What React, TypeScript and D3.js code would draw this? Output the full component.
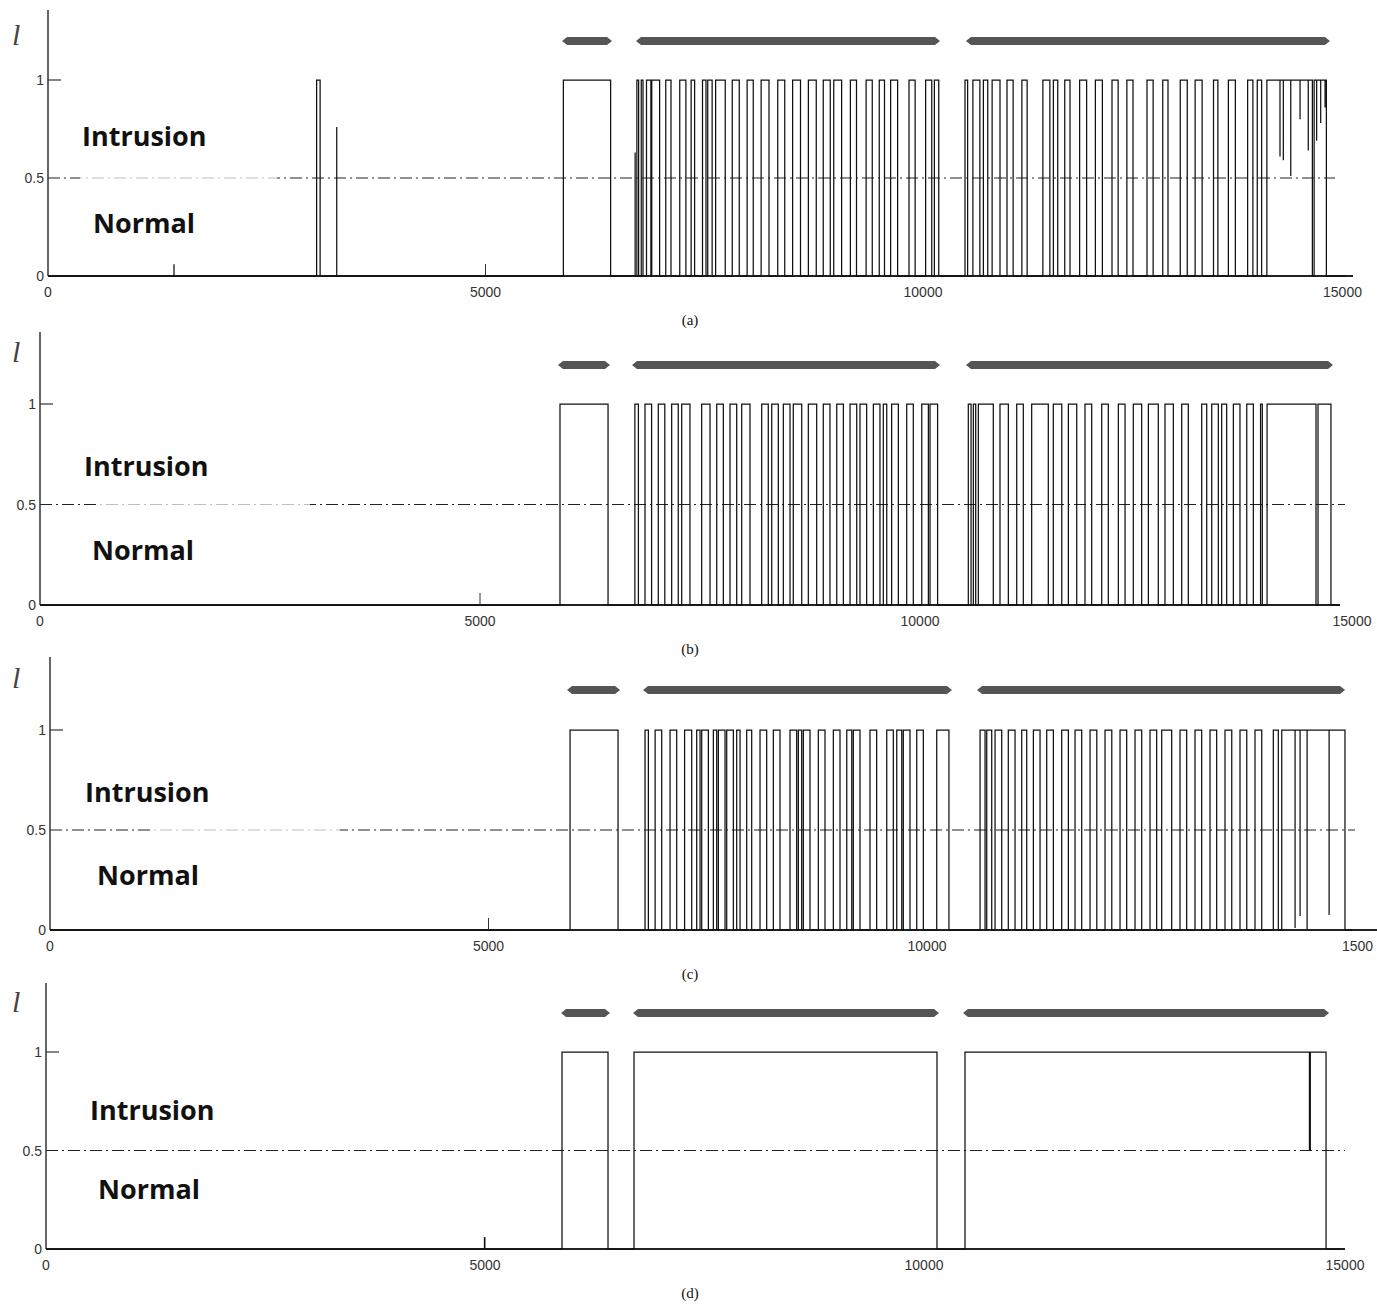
import React from "react";
import * as d3 from "d3";

const W = 1377;
const H = 1304;

// ---------- DATA (x in samples, y = detector output l) ----------
const xTicks = [0, 5000, 10000, 15000];
const innerTicks = [5000];
const yTicks = [0, 0.5, 1];
const yTickLabels = ["0", "0.5", "1"];
const captions = ["(a)", "(b)", "(c)", "(d)"];
const threshold = 0.5;

// true intrusion periods (grey bars above each panel)
const truthA = [[5875, 6446], [6720, 10194], [10491, 14651]];
const truthB = [[5886, 6477], [6727, 10227], [10523, 14693]];
const truthC = [[5895, 6500], [6762, 10285], [10571, 14767]];
const truthD = [[5866, 6424], [6686, 10171], [10444, 14614]];

// intervals where output = 1
const pulsesA = [
  [3070, 3110], [5890, 6430],
  [6730, 6750], [6780, 6800], [6840, 6890], [6900, 6990], [7060, 7120], [7220, 7290], [7350, 7390],
  [7480, 7520], [7540, 7590], [7630, 7740], [7820, 7900], [7990, 8060], [8150, 8240], [8340, 8420],
  [8510, 8600], [8690, 8780], [8860, 8940], [8980, 9070], [9170, 9240], [9350, 9420], [9500, 9560],
  [9630, 9710], [9840, 9910], [10030, 10100], [10130, 10180],
  [10480, 10510], [10570, 10650], [10690, 10740], [10790, 10880], [10960, 11030], [11130, 11190],
  [11370, 11450], [11490, 11540], [11620, 11680], [11790, 11870], [11970, 12050], [12160, 12230],
  [12330, 12400], [12560, 12630], [12740, 12800], [12940, 13020], [13110, 13190], [13320, 13370],
  [13490, 13570], [13710, 13770], [13820, 13870], [13930, 14450], [14470, 14610],
];
const spikesA = [[1440, 0.06], [3300, 0.76], [6710, 0.63]];
const dipsA = [[14080, 0.61], [14118, 0.59], [14203, 0.51], [14309, 0.8], [14403, 0.64], [14499, 0.69], [14545, 0.78], [14595, 0.86]];
const endA = 14823;

const pulsesB = [
  [5909, 6455],
  [6760, 6800], [6875, 6950], [7026, 7100], [7178, 7253], [7292, 7386], [7519, 7614], [7690, 7765],
  [7841, 7917], [7974, 8068], [8201, 8276], [8315, 8390], [8447, 8523], [8560, 8656], [8731, 8826],
  [8901, 8977], [9054, 9129], [9205, 9281], [9318, 9394], [9470, 9545], [9583, 9622], [9678, 9754],
  [9849, 9924], [10020, 10095], [10114, 10200],
  [10549, 10580], [10606, 10633], [10663, 10833], [10909, 11004], [11099, 11174], [11269, 11458],
  [11515, 11611], [11686, 11781], [11875, 11951], [12065, 12140], [12254, 12330], [12424, 12519],
  [12595, 12708], [12784, 12879], [12974, 13049], [13201, 13258], [13315, 13390], [13428, 13485],
  [13561, 13636], [13713, 13788], [13870, 13890], [13944, 14500], [14523, 14670],
];
const spikesB: number[][] = [];
const dipsB: number[][] = [];
const endB = 14773;

const pulsesC = [
  [5930, 6477],
  [6785, 6823], [6900, 6975], [7070, 7146], [7236, 7317], [7374, 7412], [7431, 7507], [7564, 7602],
  [7621, 7697], [7716, 7792], [7830, 7868], [7944, 8001], [8096, 8172], [8248, 8324], [8438, 8514],
  [8533, 8571], [8590, 8666], [8761, 8837], [8932, 9008], [9085, 9142], [9160, 9236], [9350, 9426],
  [9541, 9616], [9655, 9712], [9730, 9806], [9883, 9958], [10111, 10250],
  [10605, 10662], [10681, 10738], [10776, 10852], [10927, 11004], [11080, 11137], [11213, 11289],
  [11365, 11441], [11536, 11612], [11688, 11764], [11859, 11936], [12030, 12107], [12201, 12277],
  [12372, 12448], [12543, 12619], [12676, 12790], [12885, 12961], [13056, 13132], [13227, 13303],
  [13398, 13475], [13569, 13646], [13740, 13817], [13949, 14006], [14045, 14766],
];
const spikesC: number[][] = [];
const dipsC = [[14197, 0.01], [14254, 0.07], [14334, 0.0], [14585, 0.075]];
const endC = 14846;

const pulsesD = [[5877, 6401], [6697, 10148], [10467, 14579]];
const spikesD = [[4994, 0.06]];
const dipsD = [[14390, 0.5], [14395, 0.5], [14400, 0.5]];
const endD = 14738;

// ---------- LAYOUT ----------
type Layout = {
  x0: number; k: number; axisEnd: number; yTop: number; y1: number; y0: number;
  barY: number; lY: number; intrX: number; intrY: number; normX: number; normY: number;
  thrEnd: number; fade: number[] | null; lastShift: number; lastChars: number;
};
const layouts: Layout[] = [
  { x0: 48, k: 0.0875, axisEnd: 1353, yTop: 10, y1: 80, y0: 276, barY: 41, lY: 45, intrX: 82, intrY: 146, normX: 93, normY: 233, thrEnd: 1335, fade: [80, 277], lastShift: 18, lastChars: 5 },
  { x0: 40, k: 0.088, axisEnd: 1340, yTop: 332, y1: 404, y0: 605, barY: 365, lY: 362, intrX: 84, intrY: 476, normX: 92, normY: 560, thrEnd: 1345, fade: [100, 310], lastShift: 8, lastChars: 5 },
  { x0: 50, k: 0.0877, axisEnd: W, yTop: 657, y1: 730, y0: 930, barY: 690, lY: 688, intrX: 85, intrY: 802, normX: 97, normY: 885, thrEnd: 1355, fade: [150, 340], lastShift: 8, lastChars: 4 },
  { x0: 46, k: 0.0878, axisEnd: 1345, yTop: 983, y1: 1052, y0: 1249, barY: 1013, lY: 1012, intrX: 90, intrY: 1120, normX: 98, normY: 1199, thrEnd: 1345, fade: null, lastShift: 18, lastChars: 5 },
];

const panels = [
  { truth: truthA, pulses: pulsesA, spikes: spikesA, dips: dipsA, end: endA },
  { truth: truthB, pulses: pulsesB, spikes: spikesB, dips: dipsB, end: endB },
  { truth: truthC, pulses: pulsesC, spikes: spikesC, dips: dipsC, end: endC },
  { truth: truthD, pulses: pulsesD, spikes: spikesD, dips: dipsD, end: endD },
];

function buildSeries(pulses: number[][], spikes: number[][], dips: number[][], end: number) {
  type Ev = { x: number; kind: "p" | "s"; a: number[] };
  const evs: Ev[] = [
    ...pulses.map((p) => ({ x: p[0], kind: "p" as const, a: p })),
    ...spikes.map((s) => ({ x: s[0], kind: "s" as const, a: s })),
  ].sort((a, b) => a.x - b.x);
  const pts: [number, number][] = [[0, 0]];
  for (const e of evs) {
    if (e.kind === "s") {
      pts.push([e.a[0], 0], [e.a[0], e.a[1]], [e.a[0], 0]);
    } else {
      const [s, t] = e.a;
      pts.push([s, 0], [s, 1]);
      dips.filter((d) => d[0] > s && d[0] < t).sort((a, b) => a[0] - b[0]).forEach((d) => {
        pts.push([d[0], 1], [d[0], d[1]], [d[0], 1]);
      });
      pts.push([t, 1], [t, 0]);
    }
  }
  pts.push([end, 0]);
  return pts;
}

const tickFont = "Liberation Sans, Arial, sans-serif";
const labelFont = "Open Sans, Lato, sans-serif";

function Panel({ idx }: { idx: number }) {
  const L = layouts[idx];
  const P = panels[idx];
  const x = d3.scaleLinear().domain([0, 1 / L.k]).range([L.x0, L.x0 + 1]);
  const y = d3.scaleLinear().domain([0, 1]).range([L.y0, L.y1]);
  const pts = buildSeries(P.pulses, P.spikes, P.dips, P.end);
  const line = d3.line<[number, number]>().x((d) => x(d[0])).y((d) => y(d[1]));
  const barH = 4;
  const barPath = (a: number, b: number) => {
    const xa = x(a), xb = x(b), yy = L.barY;
    return `M${xa},${yy}L${xa + 5},${yy - barH}L${xb - 5},${yy - barH}L${xb},${yy}L${xb - 5},${yy + barH}L${xa + 5},${yy + barH}Z`;
  };
  const yThr = y(threshold);
  const last = xTicks.length - 1;
  return (
    <g>
      {P.truth.map((t, i) => (
        <path key={"b" + i} d={barPath(t[0], t[1])} fill="#555" />
      ))}
      <line x1={L.x0} x2={L.thrEnd} y1={yThr} y2={yThr} stroke="#222" strokeWidth={1} strokeDasharray="12,4,2,4" />
      {L.fade && (
        <rect x={L.fade[0]} width={L.fade[1] - L.fade[0]} y={yThr - 2} height={4} fill="#fff" opacity={0.7} />
      )}
      <line x1={L.x0} x2={L.x0} y1={L.yTop} y2={L.y0} stroke="#333" strokeWidth={1.5} />
      <line x1={L.x0} x2={L.axisEnd} y1={L.y0} y2={L.y0} stroke="#222" strokeWidth={2} />
      <line x1={L.x0} x2={L.x0 + 13} y1={y(1)} y2={y(1)} stroke="#333" strokeWidth={1.2} />
      {innerTicks.map((t) => (
        <line key={"xt" + t} x1={x(t)} x2={x(t)} y1={L.y0} y2={L.y0 - 12} stroke="#333" strokeWidth={1} />
      ))}
      <path d={line(pts) || ""} fill="none" stroke="#111" strokeWidth={1.25} strokeLinejoin="miter" />
      {yTicks.map((t, i) => (
        <text key={"yl" + t} x={L.x0 - 4} y={y(t)} dy="0.36em" textAnchor="end" fontFamily={tickFont} fontSize={14} fill="#333">
          {yTickLabels[i]}
        </text>
      ))}
      {xTicks.map((t, i) => (
        <text key={"xl" + t} x={x(t) - (i === last ? L.lastShift : 0)} y={L.y0 + 16} dy="0.36em" textAnchor="middle" fontFamily={tickFont} fontSize={14} fill="#333">
          {i === last ? String(t).slice(0, L.lastChars) : String(t)}
        </text>
      ))}
      <text x={12} y={L.lY} fontFamily="Liberation Serif, Times New Roman, serif" fontStyle="italic" fontSize={30} fill="#444">l</text>
      <text x={L.intrX} y={L.intrY} fontFamily={labelFont} fontWeight={700} fontSize={27} fill="#111">Intrusion</text>
      <text x={L.normX} y={L.normY} fontFamily={labelFont} fontWeight={700} fontSize={27} fill="#111">Normal</text>
      <text x={690} y={L.y0 + 44} dy="0.36em" textAnchor="middle" fontFamily="Liberation Serif, Times New Roman, serif" fontSize={15} fill="#111">
        {captions[idx]}
      </text>
    </g>
  );
}

export default function App() {
  return (
    <svg width={W} height={H} style={{ position: "absolute", left: 0, top: 0, background: "#fff" }}>
      <rect x={0} y={0} width={W} height={H} fill="#fff" />
      {layouts.map((_, i) => (
        <Panel key={i} idx={i} />
      ))}
    </svg>
  );
}
